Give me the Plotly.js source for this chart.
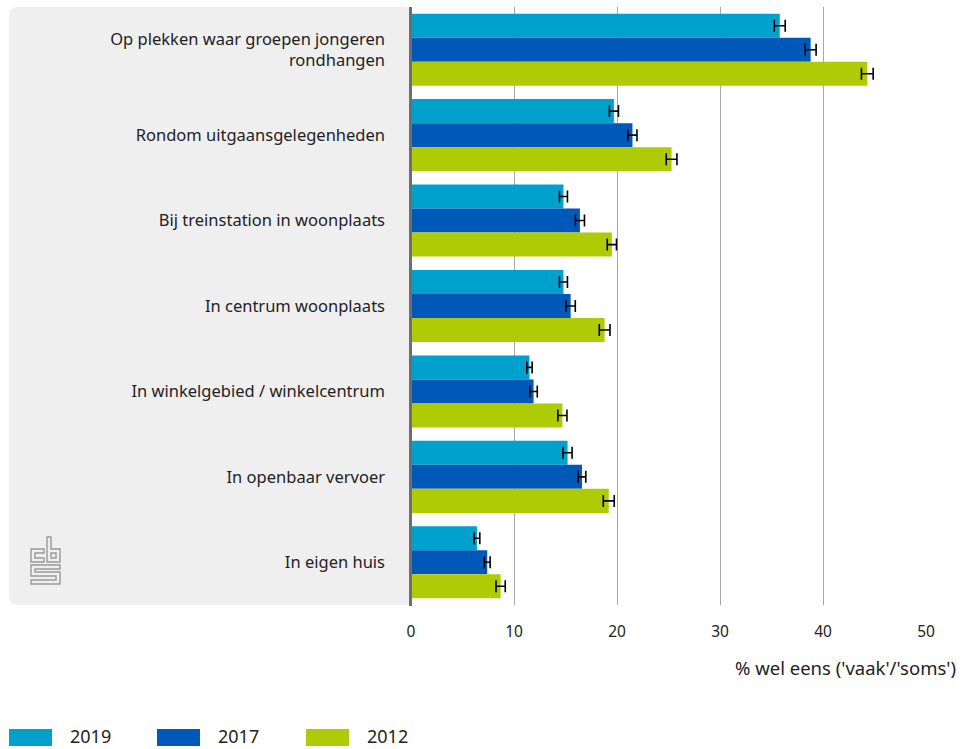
<!DOCTYPE html>
<html>
<head>
<meta charset="utf-8">
<script src="https://cdn.plot.ly/plotly-3.0.1.min.js"></script>
<style>html,body{margin:0;padding:0;background:#fff;}#chart{width:966px;height:749px;}</style>
</head>
<body>
<div id="chart"></div>
<script>
const categories = [
  "Op plekken waar groepen jongeren<br>rondhangen",
  "Rondom uitgaansgelegenheden",
  "Bij treinstation in woonplaats",
  "In centrum woonplaats",
  "In winkelgebied / winkelcentrum",
  "In openbaar vervoer",
  "In eigen huis"
];
const seriesNames = ["2019", "2017", "2012"];
const values2019 = [35.8, 19.7, 14.8, 14.8, 11.5, 15.2, 6.4];
const values2017 = [38.8, 21.5, 16.4, 15.5, 11.9, 16.6, 7.4];
const values2012 = [44.3, 25.3, 19.5, 18.8, 14.7, 19.2, 8.7];
const err2019 = [0.53, 0.44, 0.39, 0.39, 0.26, 0.44, 0.28];
const err2017 = [0.53, 0.44, 0.44, 0.45, 0.36, 0.37, 0.28];
const err2012 = [0.57, 0.52, 0.45, 0.52, 0.44, 0.53, 0.45];
const xTicks = [0, 10, 20, 30, 40, 50];
const xAxisTitle = "% wel eens ('vaak'/'soms')";

const colors = ["#00a1cd", "#0058b8", "#afcb05"];
const allValues = [values2019, values2017, values2012];
const allErr = [err2019, err2017, err2012];

const FONT = "Noto Sans, sans-serif";
const W = 966, H = 749;
const mL = 411, mR = 40, mT = 7, mB = 144;
const pw = W - mL - mR, ph = H - mT - mB;
const px = x => (x - mL) / pw;
const py = y => 1 - (y - mT) / ph;

const traces = seriesNames.map((n, i) => ({
  type: 'bar',
  orientation: 'h',
  name: n,
  y: categories,
  x: allValues[i],
  marker: {color: colors[i], line: {width: 0}},
  error_x: {type: 'data', array: allErr[i], visible: true, color: '#000', thickness: 1.6, width: 6},
  showlegend: false,
  hoverinfo: 'x+name'
}));

function roundRect(x0, y0, x1, y1, r) {
  const rx = r / pw, ry = r / ph;
  const X0 = px(x0), X1 = px(x1), Y0 = py(y0), Y1 = py(y1);
  return `M${X0 + rx},${Y0} L${X1},${Y0} L${X1},${Y1} L${X0 + rx},${Y1} Q${X0},${Y1} ${X0},${Y1 + ry} L${X0},${Y0 - ry} Q${X0},${Y0} ${X0 + rx},${Y0} Z`;
}
function pathPx(pts, close) {
  return pts.map((p, k) => (k ? 'L' : 'M') + px(p[0]) + ',' + py(p[1])).join(' ') + (close ? ' Z' : '');
}

const shapes = [
  {type: 'path', xref: 'paper', yref: 'paper', path: roundRect(9, 7, 410, 605, 9),
   fillcolor: '#efefef', line: {width: 0}, layer: 'below'},
];
const logoLine = {color: '#9a9a9a', width: 1.4};
const logoPaths = [
  [[[44,549],[31,549],[31,562],[44,562],[44,558],[35,558],[35,553],[44,553]], true],
  [[[47,537],[51,537],[51,549],[60,549],[60,562],[47,562]], true],
  [[[51,553],[56,553],[56,558],[51,558]], true],
  [[[60,565],[31,565],[31,576],[56,576],[56,580],[31,580],[31,584],[60,584],[60,572],[35,572],[35,569],[60,569]], true]
];
logoPaths.forEach(p => shapes.push({type: 'path', xref: 'paper', yref: 'paper', path: pathPx(p[0], p[1]), line: logoLine, fillcolor: 'rgba(0,0,0,0)'}));

shapes.push({type: 'line', xref: 'paper', yref: 'paper', x0: px(410.5), x1: px(410.5), y0: py(7), y1: py(606), line: {color: '#6e6e6e', width: 3}});

const annotations = [
  {xref: 'paper', yref: 'paper', x: px(958), y: py(667), xanchor: 'right', yanchor: 'middle',
   text: xAxisTitle, showarrow: false, font: {family: FONT, size: 18.5, color: '#222'}}
];

const legX = [9, 157, 306];
seriesNames.forEach((n, i) => {
  shapes.push({type: 'rect', xref: 'paper', yref: 'paper', x0: px(legX[i]), x1: px(legX[i] + 43), y0: py(729), y1: py(746),
    fillcolor: colors[i], line: {width: 0}});
  annotations.push({xref: 'paper', yref: 'paper', x: px(legX[i] + 59), y: py(736), xanchor: 'left', yanchor: 'middle',
    text: n, showarrow: false, font: {family: FONT, size: 18, color: '#222'}});
});

const layout = {
  width: W, height: H,
  margin: {l: mL, r: mR, t: mT, b: mB, pad: 0},
  paper_bgcolor: '#fff', plot_bgcolor: 'rgba(0,0,0,0)',
  barmode: 'group', bargap: 0.156, bargroupgap: 0,
  font: {family: FONT, color: '#222'},
  xaxis: {
    range: [0, 50], tickvals: xTicks, ticktext: xTicks.map(String),
    showgrid: true, gridcolor: '#a8a8a8', gridwidth: 1,
    zeroline: false, showline: false, ticks: '', ticklabelstandoff: 15,
    tickfont: {family: FONT, size: 15.5, color: '#222'}, fixedrange: true
  },
  yaxis: {
    type: 'category', autorange: 'reversed', showgrid: false, zeroline: false, showline: false,
    ticks: '', ticklabelstandoff: 25, tickfont: {family: FONT, size: 16.5, color: '#222'}
  },
  showlegend: false,
  shapes: shapes,
  annotations: annotations
};

Plotly.newPlot('chart', traces, layout, {displayModeBar: false, staticPlot: true});
</script>
</body>
</html>
